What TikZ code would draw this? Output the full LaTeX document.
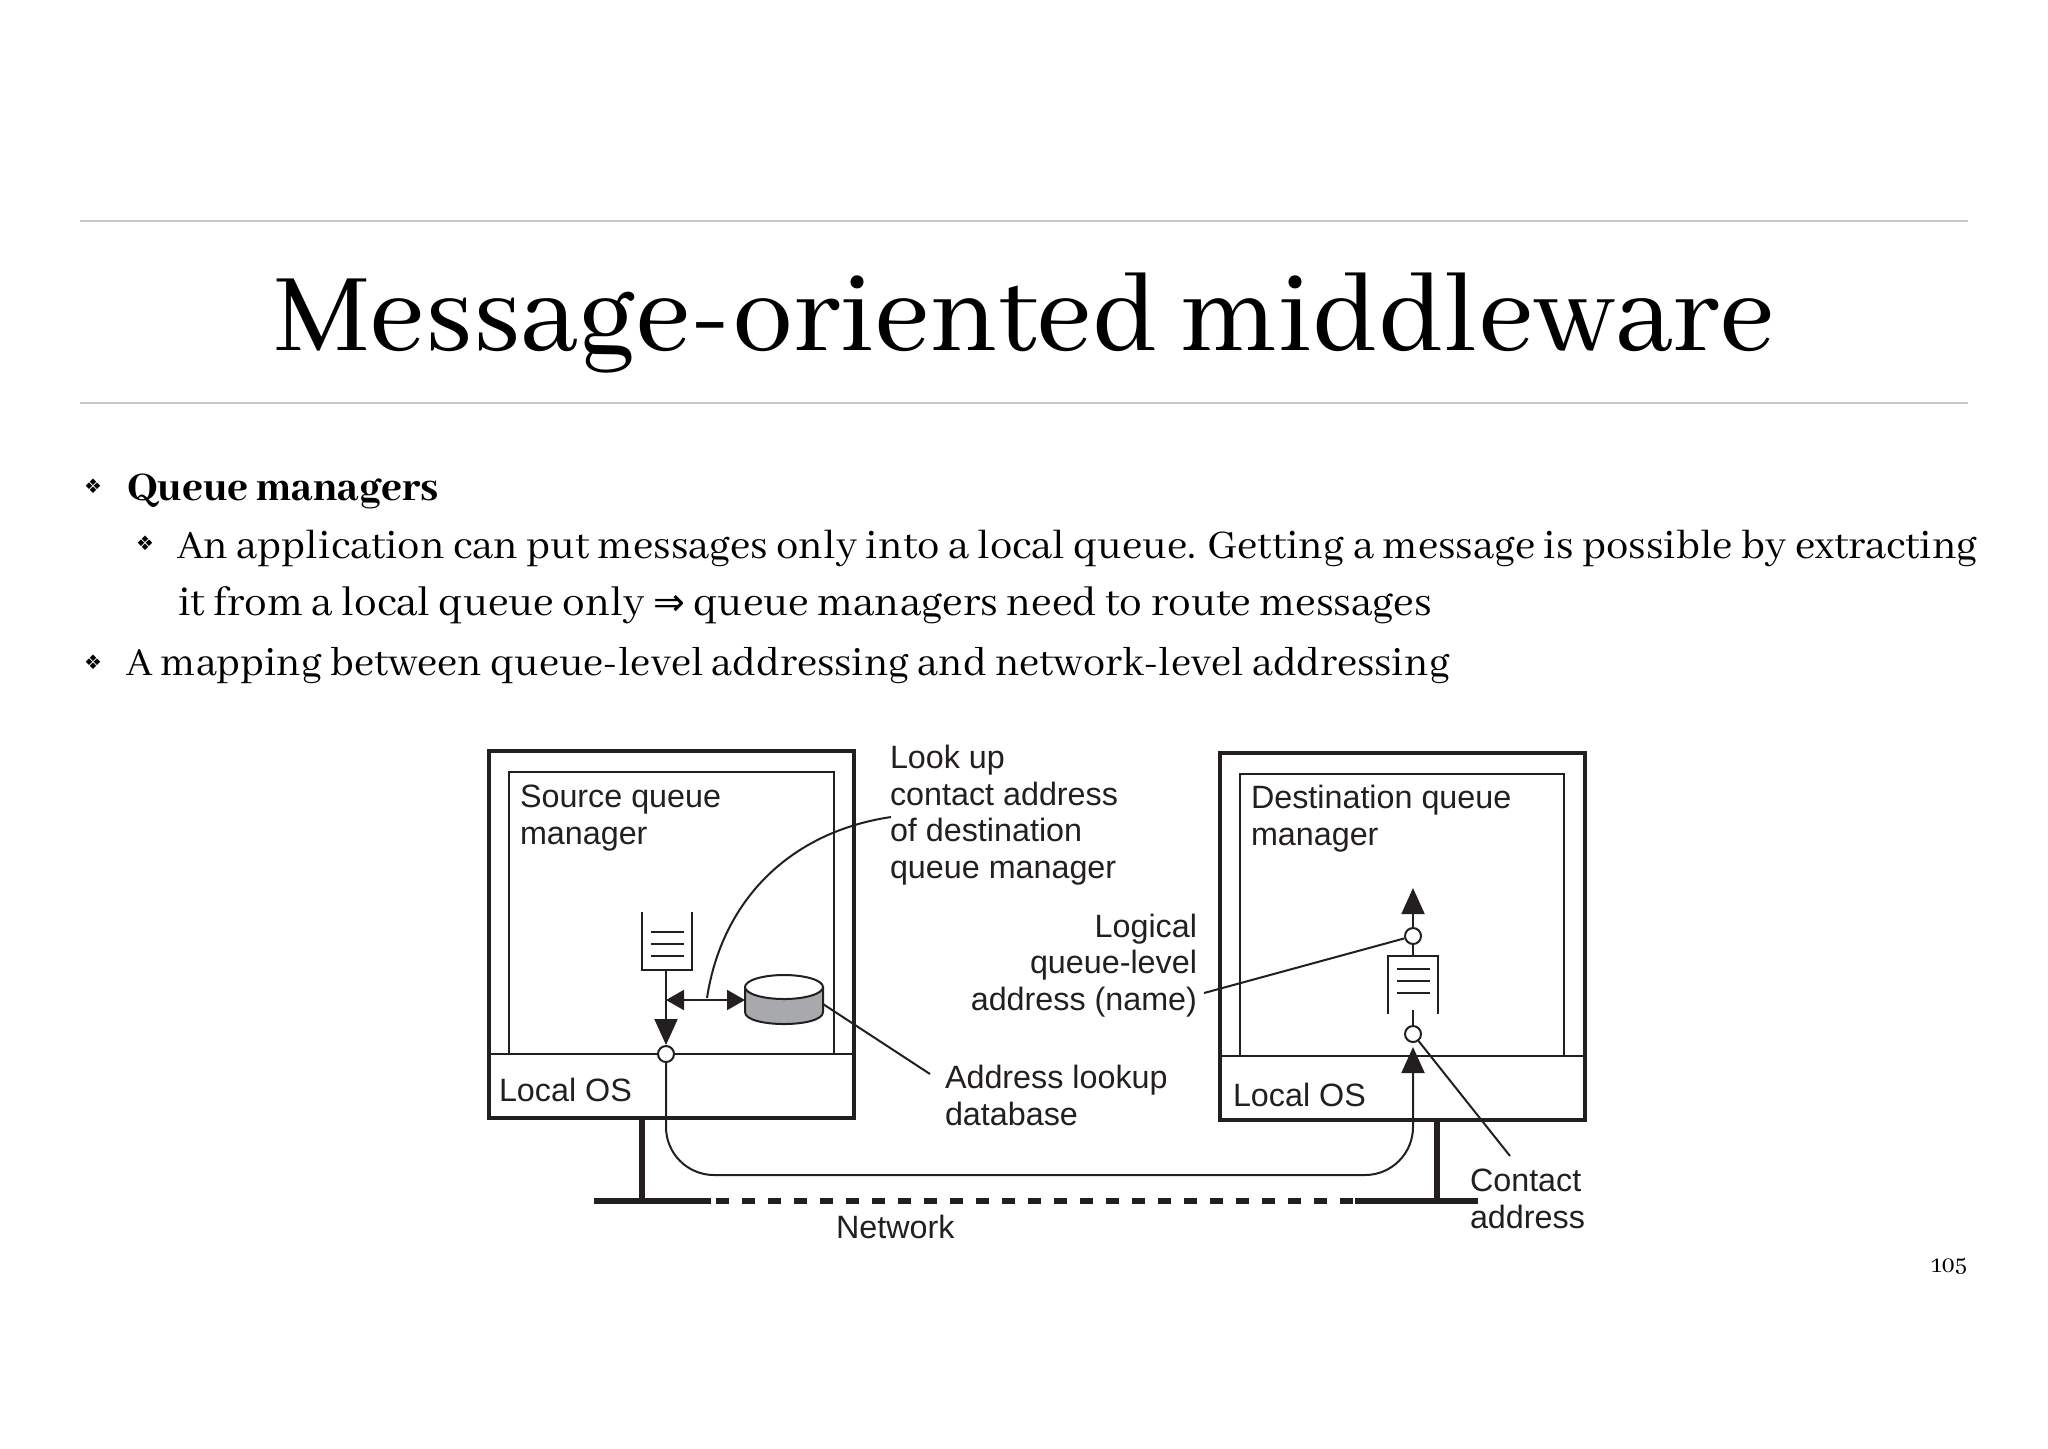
\documentclass[tikz,border=0pt]{standalone}
\usepackage{fontspec}
\setmainfont{Abhaya Libre}[BoldFont={Abhaya Libre ExtraBold}]
\setsansfont{Liberation Sans}
\newfontfamily\symfont{DejaVu Sans}
\usetikzlibrary{arrows.meta}
\definecolor{ink}{HTML}{231F20}
\definecolor{dbgray}{HTML}{A7A9AC}
\definecolor{rulegray}{HTML}{C8C8C8}

\begin{document}
\begin{tikzpicture}[x=0.5pt,y=-0.5pt,line width=1pt,>={Stealth[length=13pt,width=11.5pt,inset=0pt]}]
\tikzset{
  outerbox/.style={draw=ink,line width=2.2pt},
  innerbox/.style={draw=ink,line width=1.1pt},
  thin/.style={draw=ink,line width=1pt},
  small/.style={->,>={Stealth[length=9pt,width=10pt,inset=0pt]}},
  netbar/.style={draw=ink,line width=2.6pt},
  port/.style={circle,draw=ink,fill=white,line width=1pt,minimum size=8pt,inner sep=0pt},
  lbl/.style={font=\sffamily\fontsize{16.15}{18.2}\selectfont,text=ink,inner sep=0pt,align=left,anchor=base west},
  lblr/.style={lbl,align=right,anchor=base east},
  slidetxt/.style={font=\fontsize{22.3}{27}\selectfont,inner sep=0pt,anchor=base west},
  bull/.style={font=\symfont\fontsize{10}{12}\selectfont,inner sep=0pt}}
% three short lines of a queue at centre x, first line y
\newcommand{\qlines}[2]{%
  \foreach \k in {0,1,2} \draw[thin] (#1-16.5,#2+\k*12) -- (#1+16.5,#2+\k*12);}
\useasboundingbox (0,0) rectangle (2048,1448);
% ---------- slide head ----------
\draw[rulegray,line width=0.6pt] (80,221) -- (1968,221);
\draw[rulegray,line width=0.6pt] (80,403) -- (1968,403);
\node[font=\fontsize{61.1}{70}\selectfont,inner sep=0pt,anchor=base] (title) at (1024,350) {Message-oriented middleware};
% ---------- bullets ----------
\node[bull] (b1) at (93,486) {❖};
\node[slidetxt] (t1) at (126,500) {\textbf{Queue managers}};
\node[bull] (b2) at (145,543) {❖};
\node[slidetxt] (t2) at (176,558) {An application can put messages only into a local queue. Getting a message is possible by extracting};
\node[slidetxt,font=\fontsize{22.6}{27}\selectfont] (t3) at (177,615) {it from a local queue only {\symfont\fontsize{19}{20}\selectfont ⇒} queue managers need to route messages};
\node[bull] (b3) at (93,662) {❖};
\node[slidetxt,font=\fontsize{22.1}{27}\selectfont] (t4) at (125,675) {A mapping between queue-level addressing and network-level addressing};
\node[font=\fontsize{13}{15}\selectfont,inner sep=0pt,anchor=base east] (pagenum) at (1968,1272) {105};
% ---------- source machine ----------
\draw[innerbox] (509,1054) -- (509,772) -- (834,772) -- (834,1054);
\draw[outerbox] (489,751) rectangle (854,1118);
\draw[innerbox] (489,1054) -- (854,1054);
\node[lbl] (srcname) at (519,844) {Source queue\\manager};
\node[lbl] (srcos) at (498,1101) {Local OS};
% queue and lookup database
\draw[thin] (642,912) -- (642,970) -- (692,970) -- (692,912);
\qlines{667}{932}
\coordinate (srcqout) at (666,970);
\coordinate (srcqmid) at (666,1000);
\node[port] (srcport) at (666,1054) {};
\draw[thin,->] (srcqout) -- (srcport);
\coordinate (dbleft) at (745,1000);
\coordinate (dbright) at (823,1004);
\filldraw[thin,fill=dbgray] (745,987) -- (745,1012) .. controls (745,1028) and (823,1028) .. (823,1012) -- (823,987) -- cycle;
\filldraw[thin,fill=white] (784,987) ellipse [x radius=19.5pt,y radius=6pt];
\draw[thin,small,<->] (srcqmid) -- (dbleft);
% ---------- destination machine ----------
\draw[innerbox] (1240,1056) -- (1240,774) -- (1564,774) -- (1564,1056);
\draw[outerbox] (1220,753) rectangle (1585,1120);
\draw[innerbox] (1220,1056) -- (1585,1056);
\node[lbl] (dstname) at (1250,845) {Destination queue\\manager};
\node[lbl] (dstos) at (1232,1106) {Local OS};
\draw[thin] (1388,1014) -- (1388,956) -- (1438,956) -- (1438,1014);
\qlines{1413}{969}
\coordinate (dstqtop) at (1413,956);
\coordinate (dstqbot) at (1413,1010);
\coordinate (dsttip) at (1413,888);
\coordinate (dstin) at (1413,1047);
\node[port] (dstup) at (1413,936) {};
\node[port] (dstlow) at (1413,1034) {};
\draw[thin] (dstqtop) -- (dstup);
\draw[thin,->] (dstup) -- (dsttip);
\draw[thin] (dstqbot) -- (dstlow);
% ---------- network ----------
\coordinate (srcfoot) at (642,1118);
\coordinate (srcjoin) at (642,1201);
\coordinate (dstfoot) at (1437,1120);
\coordinate (dstjoin) at (1437,1201);
\coordinate (netl) at (594,1201);
\coordinate (netdl) at (711,1201);
\coordinate (netdr) at (1355,1201);
\coordinate (netr) at (1478,1201);
\draw[netbar] (srcfoot) -- (srcjoin);
\draw[netbar] (dstfoot) -- (dstjoin);
\draw[netbar] (netl) -- (netdl);
\draw[netbar] (netdr) -- (netr);
\draw[netbar,dash pattern=on 6.5pt off 6.5pt,dash phase=-2.5pt] (netdl) -- (netdr);
\coordinate (routemid) at (1000,1175);
\draw[thin,->,rounded corners=24pt] (srcport) |- (routemid) -| (dstin);
\node[lbl] (netname) at (835,1238) {Network};
% ---------- call-outs ----------
\node[lbl] (lookup) at (889,878) {Look up\\contact address\\of destination\\queue manager};
\node[lbl] (dbname) at (944,1125) {Address lookup\\database};
\node[lblr] (logname) at (1198,1010) {Logical\\queue-level\\address (name)};
\node[lbl] (conname) at (1469,1228) {Contact\\address};
\coordinate (lookupend) at (891,817);
\coordinate (lookupfoot) at (707,998);
\coordinate (dbend) at (930,1074);
\coordinate (logend) at (1204,993);
\coordinate (conend) at (1510,1156);
\draw[thin] (lookupend) .. controls (790,832) and (722,900) .. (lookupfoot);
\draw[thin] (dbright) -- (dbend);
\draw[thin] (logend) -- (dstup);
\draw[thin] (conend) -- (dstlow);
\end{tikzpicture}
\end{document}
